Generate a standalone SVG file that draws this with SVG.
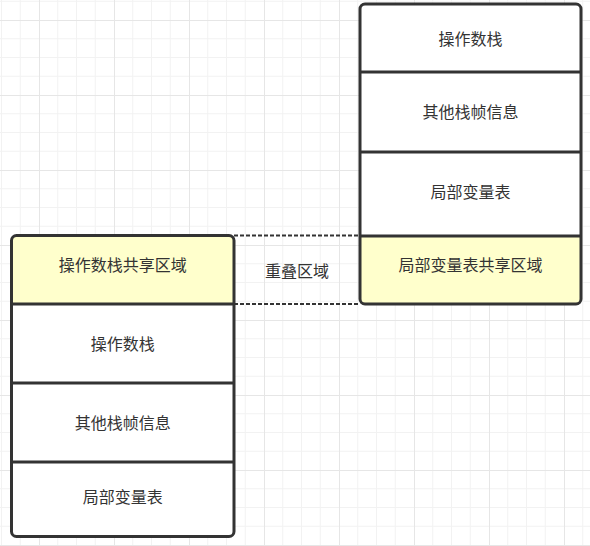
<svg xmlns="http://www.w3.org/2000/svg" width="590" height="546" viewBox="0 0 590 546">
<defs>
<pattern id="grid" patternUnits="userSpaceOnUse" x="39" y="20" width="75" height="75">
<path d="M18.75 0V75M37.5 0V75M56.25 0V75M0 18.75H75M0 37.5H75M0 56.25H75" stroke="#f2f2f2" stroke-width="1" fill="none"/>
<path d="M0.5 0V75M0 0.5H75" stroke="#e6e6e6" stroke-width="1" fill="none"/>
</pattern>
</defs>
<style>
.frame{fill:none;stroke:#333;stroke-width:3}
.cell{fill:#ffffff}
.shared{fill:#ffffcc}
.div{stroke:#333;stroke-width:3}
.dash{stroke:#333;stroke-width:2;stroke-dasharray:4 2;fill:none}
text{font-family:"Noto Sans CJK SC","Noto Sans",sans-serif;font-size:16px;fill:#333;text-anchor:middle;dominant-baseline:central}
</style>
<rect width="590" height="546" fill="#ffffff"/>
<rect width="590" height="546" fill="url(#grid)"/>
<g id="connectors">
<path class="dash" d="M234 235.5H360M234 304H360"/>
<text x="297" y="270">重叠区域</text>
</g>
<g id="right-stack">
<rect class="cell" x="360" y="4" width="221" height="300" rx="5"/>
<path class="shared" d="M360 236H581V299a5 5 0 0 1-5 5H365a5 5 0 0 1-5-5Z"/>
<line class="div" x1="360" y1="72" x2="581" y2="72"/>
<line class="div" x1="360" y1="152" x2="581" y2="152"/>
<line class="div" x1="360" y1="236" x2="581" y2="236"/>
<rect class="frame" x="360" y="4" width="221" height="300" rx="5"/>
<g id="r-opstack"><text x="470.5" y="38">操作数栈</text></g>
<g id="r-other"><text x="470.5" y="111">其他栈帧信息</text></g>
<g id="r-locals"><text x="470.5" y="191">局部变量表</text></g>
<g id="r-shared"><text x="470.5" y="264">局部变量表共享区域</text></g>
</g>
<g id="left-stack">
<rect class="cell" x="11.5" y="235.5" width="222.5" height="301" rx="5"/>
<path class="shared" d="M16.5 235.5H229a5 5 0 0 1 5 5V304H11.5V240.5a5 5 0 0 1 5-5Z"/>
<line class="div" x1="11.5" y1="304" x2="234" y2="304"/>
<line class="div" x1="11.5" y1="383" x2="234" y2="383"/>
<line class="div" x1="11.5" y1="462" x2="234" y2="462"/>
<rect class="frame" x="11.5" y="235.5" width="222.5" height="301" rx="5"/>
<g id="l-shared"><text x="122.75" y="264">操作数栈共享区域</text></g>
<g id="l-opstack"><text x="122.75" y="343">操作数栈</text></g>
<g id="l-other"><text x="122.75" y="422">其他栈帧信息</text></g>
<g id="l-locals"><text x="122.75" y="496">局部变量表</text></g>
</g>
</svg>
